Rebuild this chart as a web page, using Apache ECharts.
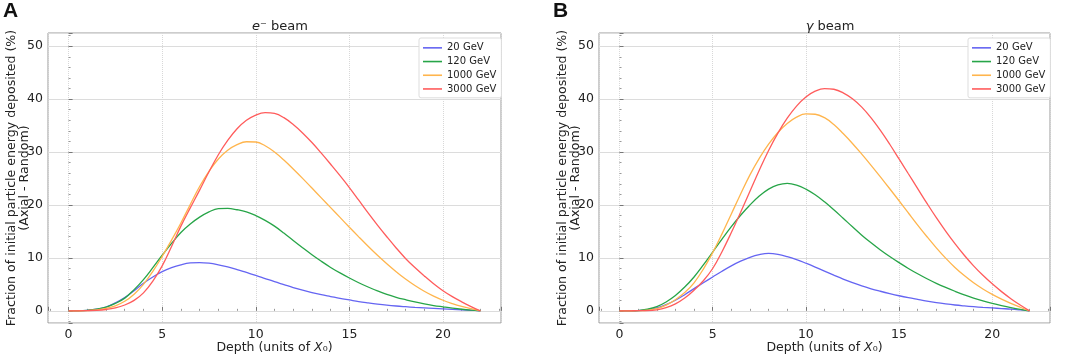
<!DOCTYPE html>
<html>
<head>
<meta charset="utf-8">
<script src="https://cdn.jsdelivr.net/npm/echarts@6/dist/echarts.min.js"></script>
<style>
  html, body { margin: 0; background: #fff; }
  #chart { width: 1072px; height: 356px; }
</style>
</head>
<body>
<div id="chart"></div>
<script>
// depth in units of X0, read every half unit
const depth = [0, 0.5, 1, 1.5, 2, 2.5, 3, 3.5, 4, 4.5, 5, 5.5, 6, 6.5, 7, 7.5, 8, 8.5, 9, 9.5, 10, 10.5,
  11, 11.5, 12, 12.5, 13, 13.5, 14, 14.5, 15, 15.5, 16, 16.5, 17, 17.5, 18, 18.5, 19, 19.5, 20, 20.5, 21, 21.5, 22];
const energies = ["20 GeV", "120 GeV", "1000 GeV", "3000 GeV"];
const xTicks = [0, 5, 10, 15, 20];
const yTicks = [0, 10, 20, 30, 40, 50];

// A: e- beam, fraction deposited (%)
const electron20 = [0, 0.02, 0.1, 0.3, 0.7, 1.5, 2.5, 3.8, 5.2, 6.4, 7.4, 8.15, 8.7, 9.05, 9.12, 9.0, 8.7, 8.3, 7.8, 7.25, 6.7, 6.1,
  5.5, 4.95, 4.4, 3.9, 3.45, 3.05, 2.7, 2.35, 2.05, 1.75, 1.5, 1.27, 1.07, 0.91, 0.78, 0.66, 0.56, 0.47, 0.38, 0.29, 0.2, 0.1, 0];
const electron120 = [0, 0.01, 0.1, 0.3, 0.7, 1.4, 2.4, 4.0, 5.9, 8.15, 10.5, 12.75, 14.8, 16.4, 17.7, 18.7, 19.3, 19.35, 19.1, 18.7, 18.0, 17.1,
  16.0, 14.7, 13.3, 11.93, 10.6, 9.36, 8.2, 7.16, 6.2, 5.31, 4.5, 3.76, 3.1, 2.56, 2.1, 1.67, 1.3, 1.0, 0.75, 0.51, 0.3, 0.13, 0];
const electron1000 = [0, 0.01, 0.05, 0.17, 0.45, 0.95, 1.8, 3.15, 5.0, 7.45, 10.3, 13.35, 16.6, 20.1, 23.5, 26.35, 28.7, 30.35, 31.4, 31.95, 31.9, 31.2,
  30.0, 28.5, 26.8, 25.03, 23.2, 21.35, 19.5, 17.65, 15.8, 13.98, 12.2, 10.5, 8.9, 7.39, 6.0, 4.78, 3.7, 2.78, 2.0, 1.38, 0.85, 0.4, 0];
const electron3000 = [0, 0.01, 0.05, 0.1, 0.25, 0.55, 1.1, 1.98, 3.4, 5.62, 8.5, 12.15, 16.0, 19.45, 22.8, 26.27, 29.5, 32.2, 34.4, 36.0, 37.0, 37.45,
  37.3, 36.5, 35.2, 33.62, 31.8, 29.8, 27.7, 25.55, 23.3, 20.9, 18.5, 16.2, 14.0, 11.88, 9.9, 8.17, 6.6, 5.12, 3.8, 2.68, 1.7, 0.8, 0];

// B: gamma beam
const photon20 = [0, 0.01, 0.05, 0.21, 0.55, 1.17, 2.0, 3.05, 4.2, 5.3, 6.4, 7.49, 8.5, 9.38, 10.1, 10.61, 10.85, 10.68, 10.25, 9.68, 9.0, 8.27,
  7.5, 6.74, 6.0, 5.32, 4.7, 4.17, 3.7, 3.26, 2.85, 2.48, 2.15, 1.83, 1.55, 1.31, 1.1, 0.93, 0.78, 0.65, 0.54, 0.43, 0.32, 0.17, 0];
const photon120 = [0, 0.01, 0.05, 0.3, 0.8, 1.68, 2.9, 4.49, 6.4, 8.67, 11.1, 13.54, 15.9, 18.06, 20.0, 21.69, 23.0, 23.81, 24.1, 23.77, 23.0, 21.93,
  20.6, 19.1, 17.5, 15.88, 14.3, 12.85, 11.5, 10.26, 9.1, 8.01, 7.0, 6.06, 5.2, 4.42, 3.7, 3.02, 2.4, 1.87, 1.4, 0.98, 0.6, 0.27, 0];
const photon1000 = [0, 0.01, 0.03, 0.11, 0.4, 1.07, 2.1, 3.45, 5.3, 7.89, 11.0, 14.54, 18.3, 22.09, 25.7, 28.82, 31.5, 33.7, 35.4, 36.59, 37.2, 37.15,
  36.5, 35.2, 33.5, 31.63, 29.6, 27.49, 25.3, 23.07, 20.8, 18.49, 16.2, 14.0, 11.9, 9.96, 8.2, 6.66, 5.3, 4.13, 3.1, 2.2, 1.4, 0.68, 0];
const photon3000 = [0, 0.01, 0.03, 0.05, 0.2, 0.6, 1.3, 2.41, 3.9, 5.69, 8.0, 11.17, 14.8, 18.64, 22.6, 26.56, 30.3, 33.58, 36.4, 38.68, 40.4, 41.5,
  42.0, 41.87, 41.2, 40.08, 38.5, 36.47, 34.1, 31.48, 28.7, 25.9, 23.1, 20.3, 17.6, 15.07, 12.7, 10.51, 8.5, 6.71, 5.1, 3.63, 2.3, 1.1, 0];

const COLORS = ["#6565f2", "#27a548", "#ffb54d", "#ff5c5c"];
const FONT = "DejaVu Sans";

const panels = [
  { left: 48, width: 453, series: [electron20, electron120, electron1000, electron3000], legendLeft: 419 },
  { left: 599, width: 451, series: [photon20, photon120, photon1000, photon3000], legendLeft: 968 },
];

const chart = echarts.init(document.getElementById("chart"), null, { renderer: "canvas" });

const grid = panels.map((p) => ({
  left: p.left, width: p.width, top: 33, height: 290,
  containLabel: false, outerBoundsMode: "none",
  show: true, borderColor: "#9a9a9a", borderWidth: 1, backgroundColor: "#fff",
}));

const xAxis = panels.map((p, i) => ({
  type: "value", gridIndex: i, min: -1.1, max: 23.1, splitNumber: 5,
  name: "{n|Depth (units of }{i|X}{n|₀)}",
  nameLocation: "middle", nameGap: 18, nameMoveOverlap: false,
  nameTextStyle: {
    rich: {
      n: { fontFamily: FONT, fontSize: 12.5, color: "#222" },
      i: { fontFamily: FONT, fontSize: 12.5, color: "#222", fontStyle: "italic" },
    },
  },
  axisLine: { show: false },
  axisTick: { inside: true, length: 4, lineStyle: { color: "#777" } },
  minorTick: { show: true, splitNumber: 5, length: 2, lineStyle: { color: "#999" } },
  axisLabel: {
    margin: 5, fontFamily: FONT, fontSize: 12.5, color: "#222",
    formatter: (v) => (xTicks.includes(v) ? String(v) : ""),
  },
  splitLine: { show: true, lineStyle: { color: "#d8d8d8", type: "dotted" } },
}));

const yAxis = panels.map((p, i) => ({
  type: "value", gridIndex: i, min: -2.3, max: 52.5, splitNumber: 5,
  name: "Fraction of initial particle energy deposited (%)\n(Axial - Random)",
  nameLocation: "middle", nameGap: 17, nameRotate: 90, nameMoveOverlap: false,
  nameTextStyle: { fontFamily: FONT, fontSize: 12.6, color: "#222", lineHeight: 13 },
  axisLine: { show: false },
  axisTick: { inside: true, length: 4, lineStyle: { color: "#777" } },
  minorTick: { show: true, splitNumber: 5, length: 2, lineStyle: { color: "#999" } },
  axisLabel: {
    margin: 5, fontFamily: FONT, fontSize: 12.5, color: "#222",
    formatter: (v) => (yTicks.includes(v) ? String(v) : ""),
  },
  splitLine: { show: true, lineStyle: { color: "#dcdcdc" } },
}));

const series = [];
panels.forEach((p, pi) => {
  p.series.forEach((vals, si) => {
    series.push({
      name: energies[si], type: "line", xAxisIndex: pi, yAxisIndex: pi,
      data: depth.map((d, k) => [d, vals[k]]),
      smooth: 0.4, symbol: "none", silent: true,
      lineStyle: { color: COLORS[si], width: 1.3 },
      itemStyle: { color: COLORS[si] },
    });
  });
});

const legend = panels.map((p) => ({
  orient: "vertical", left: p.legendLeft, top: 38,
  data: energies, icon: "rect", itemWidth: 19, itemHeight: 1.6, itemGap: 2,
  padding: [4, 5, 3, 4], borderColor: "#dddddd", borderWidth: 1, borderRadius: 2,
  backgroundColor: "#fff",
  textStyle: { fontFamily: FONT, fontSize: 10, color: "#222", lineHeight: 11.7 },
  selectedMode: false,
}));

const letterStyle = { fontFamily: "Liberation Sans", fontWeight: "bold", fontSize: 21, color: "#111" };

chart.setOption({
  animation: false,
  textStyle: { fontFamily: FONT },
  color: COLORS,
  title: [
    { text: "A", left: 3, top: 1, padding: 0, textStyle: letterStyle },
    { text: "B", left: 553, top: 1, padding: 0, textStyle: letterStyle },
    {
      text: "{i|e}{s|⁻} beam", left: 275, top: 15, textAlign: "center",
      textStyle: {
        fontFamily: FONT, fontSize: 13, color: "#222", fontWeight: "normal",
        rich: { i: { fontFamily: FONT, fontSize: 13, fontStyle: "italic", color: "#222" }, s: { fontFamily: FONT, fontSize: 13, color: "#222" } },
      },
    },
    {
      text: "{i|γ} beam", left: 825, top: 15, textAlign: "center",
      textStyle: {
        fontFamily: FONT, fontSize: 13, color: "#222", fontWeight: "normal",
        rich: { i: { fontFamily: FONT, fontSize: 13, fontStyle: "italic", color: "#222" } },
      },
    },
  ],
  legend,
  grid, xAxis, yAxis, series,
});
</script>
</body>
</html>
